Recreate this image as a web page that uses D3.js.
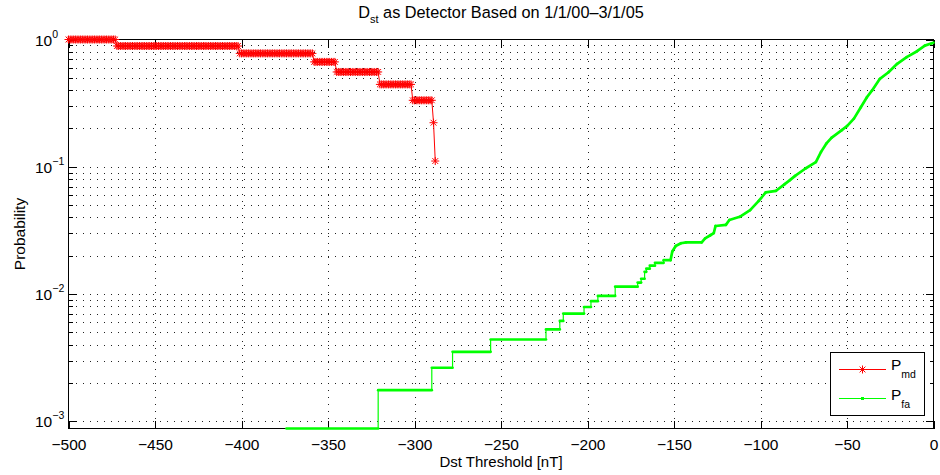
<!DOCTYPE html>
<html>
<head>
<meta charset="utf-8">
<script src="https://cdn.jsdelivr.net/npm/d3@7"></script>
<style>
  body { margin: 0; background: #fff; }
  svg text { font-family: "Liberation Sans", Arial, Helvetica, sans-serif; fill: #000; }
</style>
</head>
<body>
<svg id="vis" width="940" height="475"></svg>
<script>
// x ticks
var xTicks = [-500, -450, -400, -350, -300, -250, -200, -150, -100, -50, 0];
// y decades and their exponent labels
var yDecades = [0.001, 0.01, 0.1, 1];
var yExponents = ["\u22123", "\u22122", "\u22121", "0"];

// P_md : runs of equal value (threshold from..to, in nT)
var pmdFrom = [-500, -472, -401, -358, -345, -320, -301, -289, -288];
var pmdTo = [-473, -402, -359, -346, -321, -302, -290, -289, -288];
var pmdValue = [1.0, 0.889, 0.778, 0.667, 0.556, 0.444, 0.333, 0.222, 0.111];

// P_fa : breakpoints
var pfaThreshold = [-374, -321, -321, -290, -290, -278, -278, -256, -256, -224, -224, -216, -216, -214, -214,
    -202, -202, -198, -198, -194, -194, -184, -184, -171, -171, -169, -169, -167, -167, -166, -166, -164, -164,
    -161, -161, -156, -156, -152, -151, -149, -146, -143, -134, -132, -129, -127, -126, -120, -118, -112, -106,
    -101, -97, -91, -86, -83, -80, -74, -68, -65, -62, -59, -53, -50, -46, -42, -38.5, -35.5, -31, -26, -21,
    -15.5, -9.5, -5, -1, 0];
var pfaValue = [.00088, .00088, .00176, .00176, .00264, .00264, .00352, .00352, .0044, .0044, .00528, .00528,
    .00616, .00616, .00704, .00704, .00792, .00792, .0088, .0088, .00968, .00968, .01144, .01144, .01232, .01232,
    .0132, .0132, .01496, .01496, .01584, .01584, .01672, .01672, .0176, .0176, .01848, .01848, .0216, .0239,
    .0251, .0255, .0255, .0274, .029, .0302, .0343, .035, .0382, .0405, .0457, .054, .0629, .0648, .0731, .0786,
    .0849, .097, .109, .131, .152, .169, .194, .209, .239, .294, .352, .398, .491, .553, .644, .726, .809, .895,
    .933, .945];

// constant
var plotLeft = 68.5, plotRight = 933.5, plotTop = 39.5, plotBottom = 428.5;
var fontSize = 15.5;

var x = d3.scaleLinear().domain([-500, 0]).range([plotLeft, plotRight]);
var y = d3.scaleLog().domain([0.00088, 1]).range([plotBottom, plotTop]);

var svg = d3.select("#vis");

// minor values of the log axis
var yMinor = [];
yDecades.forEach(function (d) {
    for (var k = 2; k <= 9; k++) {
        if (d * k < 1) yMinor.push(d * k);
    }
});

// grid
var grid = svg.append("g").attr("stroke", "#222").attr("stroke-dasharray", "1,6").attr("shape-rendering", "crispEdges");
grid.selectAll("line.h")
    .data(yMinor.concat(yDecades.slice(0, 3)))
    .enter().append("line")
    .attr("x1", plotLeft).attr("x2", plotRight)
    .attr("y1", function (d) { return Math.round(y(d)) + 0.5; })
    .attr("y2", function (d) { return Math.round(y(d)) + 0.5; });
grid.selectAll("line.v")
    .data(xTicks.slice(1, -1))
    .enter().append("line")
    .attr("y1", plotTop).attr("y2", plotBottom)
    .attr("x1", function (d) { return Math.round(x(d)) + 0.5; })
    .attr("x2", function (d) { return Math.round(x(d)) + 0.5; });

// axes (ticks inside)
function styleAxis(g) {
    g.select(".domain").remove();
    g.selectAll("line").attr("stroke", "#000").attr("shape-rendering", "crispEdges");
}
svg.append("g").attr("transform", "translate(0," + plotBottom + ")")
    .call(d3.axisBottom(x).tickValues(xTicks).tickSize(-8).tickPadding(10)
        .tickFormat(function (d) { return d < 0 ? "\u2212" + (-d) : d; }))
    .call(styleAxis)
    .selectAll("text").attr("font-size", fontSize + "px").attr("font-family", null).attr("dy", "0.75em");
svg.append("g").attr("transform", "translate(0," + plotTop + ")")
    .call(d3.axisTop(x).tickValues(xTicks).tickSize(-8).tickFormat(""))
    .call(styleAxis);
svg.append("g").attr("transform", "translate(" + plotLeft + ",0)")
    .call(d3.axisLeft(y).tickValues(yDecades).tickSize(-8).tickFormat(""))
    .call(styleAxis);
svg.append("g").attr("transform", "translate(" + plotLeft + ",0)")
    .call(d3.axisLeft(y).tickValues(yMinor).tickSize(-4).tickFormat(""))
    .call(styleAxis);
svg.append("g").attr("transform", "translate(" + plotRight + ",0)")
    .call(d3.axisRight(y).tickValues(yDecades).tickSize(-8).tickFormat(""))
    .call(styleAxis);
svg.append("g").attr("transform", "translate(" + plotRight + ",0)")
    .call(d3.axisRight(y).tickValues(yMinor).tickSize(-4).tickFormat(""))
    .call(styleAxis);

// y labels 10^n
var ylab = svg.append("g").selectAll("text")
    .data(yDecades)
    .enter().append("text")
    .attr("x", 35)
    .attr("y", function (d) { return y(d) + 6; })
    .attr("font-size", fontSize + "px");
ylab.append("tspan").text("10");
ylab.append("tspan")
    .attr("font-size", "10.5px")
    .attr("dy", -8)
    .text(function (d, i) { return yExponents[i]; });

// box
svg.append("rect")
    .attr("x", plotLeft).attr("y", plotTop)
    .attr("width", plotRight - plotLeft).attr("height", plotBottom - plotTop)
    .attr("fill", "none").attr("stroke", "#000").attr("shape-rendering", "crispEdges");

// P_fa - green
var pfa = pfaThreshold.map(function (t, i) { return {t: t, p: pfaValue[i]}; });
var line = d3.line()
    .x(function (d) { return x(d.t); })
    .y(function (d) { return y(d.p); });
svg.append("path")
    .datum(pfa)
    .attr("fill", "none")
    .attr("stroke", "#00ff00")
    .attr("stroke-width", 1.2)
    .attr("d", line);
svg.append("g").selectAll("line")
    .data(d3.pairs(pfa).filter(function (s) { return s[0].t !== s[1].t; }))
    .enter().append("line")
    .attr("x1", function (s) { return x(s[0].t); })
    .attr("y1", function (s) { return y(s[0].p); })
    .attr("x2", function (s) { return x(s[1].t); })
    .attr("y2", function (s) { return y(s[1].p); })
    .attr("stroke", "#00ff00")
    .attr("stroke-width", 2.7)
    .attr("stroke-linecap", "round");

// P_md - red with asterisks
var pmd = [];
pmdFrom.forEach(function (a, i) {
    d3.range(a, pmdTo[i] + 1).forEach(function (t) { pmd.push({t: t, p: pmdValue[i]}); });
});
var star = "M-4,0H4M0,-4V4M-2.9,-2.9L2.9,2.9M-2.9,2.9L2.9,-2.9";
svg.append("path")
    .datum(pmd)
    .attr("fill", "none")
    .attr("stroke", "#ff0000")
    .attr("stroke-width", 1)
    .attr("d", line);
svg.append("g").selectAll("path")
    .data(pmd)
    .enter().append("path")
    .attr("transform", function (d) { return "translate(" + x(d.t) + "," + y(d.p) + ")"; })
    .attr("d", star)
    .attr("fill", "none")
    .attr("stroke", "#ff0000")
    .attr("stroke-width", 1);

// title
var title = svg.append("text")
    .attr("x", (plotLeft + plotRight) / 2)
    .attr("y", 18)
    .attr("text-anchor", "middle")
    .attr("font-size", "16.3px");
title.append("tspan").text("D");
title.append("tspan").attr("font-size", "11px").attr("dy", 5).text("st");
title.append("tspan").attr("dy", -5).text(" as Detector Based on 1/1/00\u20133/1/05");

// axis labels
svg.append("text")
    .attr("x", (plotLeft + plotRight) / 2)
    .attr("y", 466.5)
    .attr("text-anchor", "middle")
    .attr("font-size", "15px")
    .text("Dst Threshold [nT]");
svg.append("text")
    .attr("transform", "translate(25," + (plotTop + plotBottom) / 2 + ") rotate(-90)")
    .attr("text-anchor", "middle")
    .attr("font-size", fontSize + "px")
    .text("Probability");

// legend
var legend = svg.append("g");
legend.append("rect")
    .attr("x", 830.5).attr("y", 352.5)
    .attr("width", 94).attr("height", 63)
    .attr("fill", "#fff").attr("stroke", "#000").attr("shape-rendering", "crispEdges");
legend.append("line")
    .attr("x1", 839).attr("x2", 886).attr("y1", 369.5).attr("y2", 369.5)
    .attr("stroke", "#ff0000");
legend.append("path")
    .attr("transform", "translate(862.5,369.5)")
    .attr("d", star).attr("fill", "none").attr("stroke", "#ff0000");
legend.append("line")
    .attr("x1", 839).attr("x2", 886).attr("y1", 398.5).attr("y2", 398.5)
    .attr("stroke", "#00ff00");
legend.append("rect")
    .attr("x", 861).attr("y", 397).attr("width", 3).attr("height", 3)
    .attr("fill", "#00ff00");
var lt1 = legend.append("text").attr("x", 891).attr("y", 370).attr("font-size", fontSize + "px");
lt1.append("tspan").text("P");
lt1.append("tspan").attr("font-size", "10.5px").attr("dy", 8).text("md");
var lt2 = legend.append("text").attr("x", 891).attr("y", 399.5).attr("font-size", fontSize + "px");
lt2.append("tspan").text("P");
lt2.append("tspan").attr("font-size", "10.5px").attr("dy", 8).text("fa");
</script>
</body>
</html>
